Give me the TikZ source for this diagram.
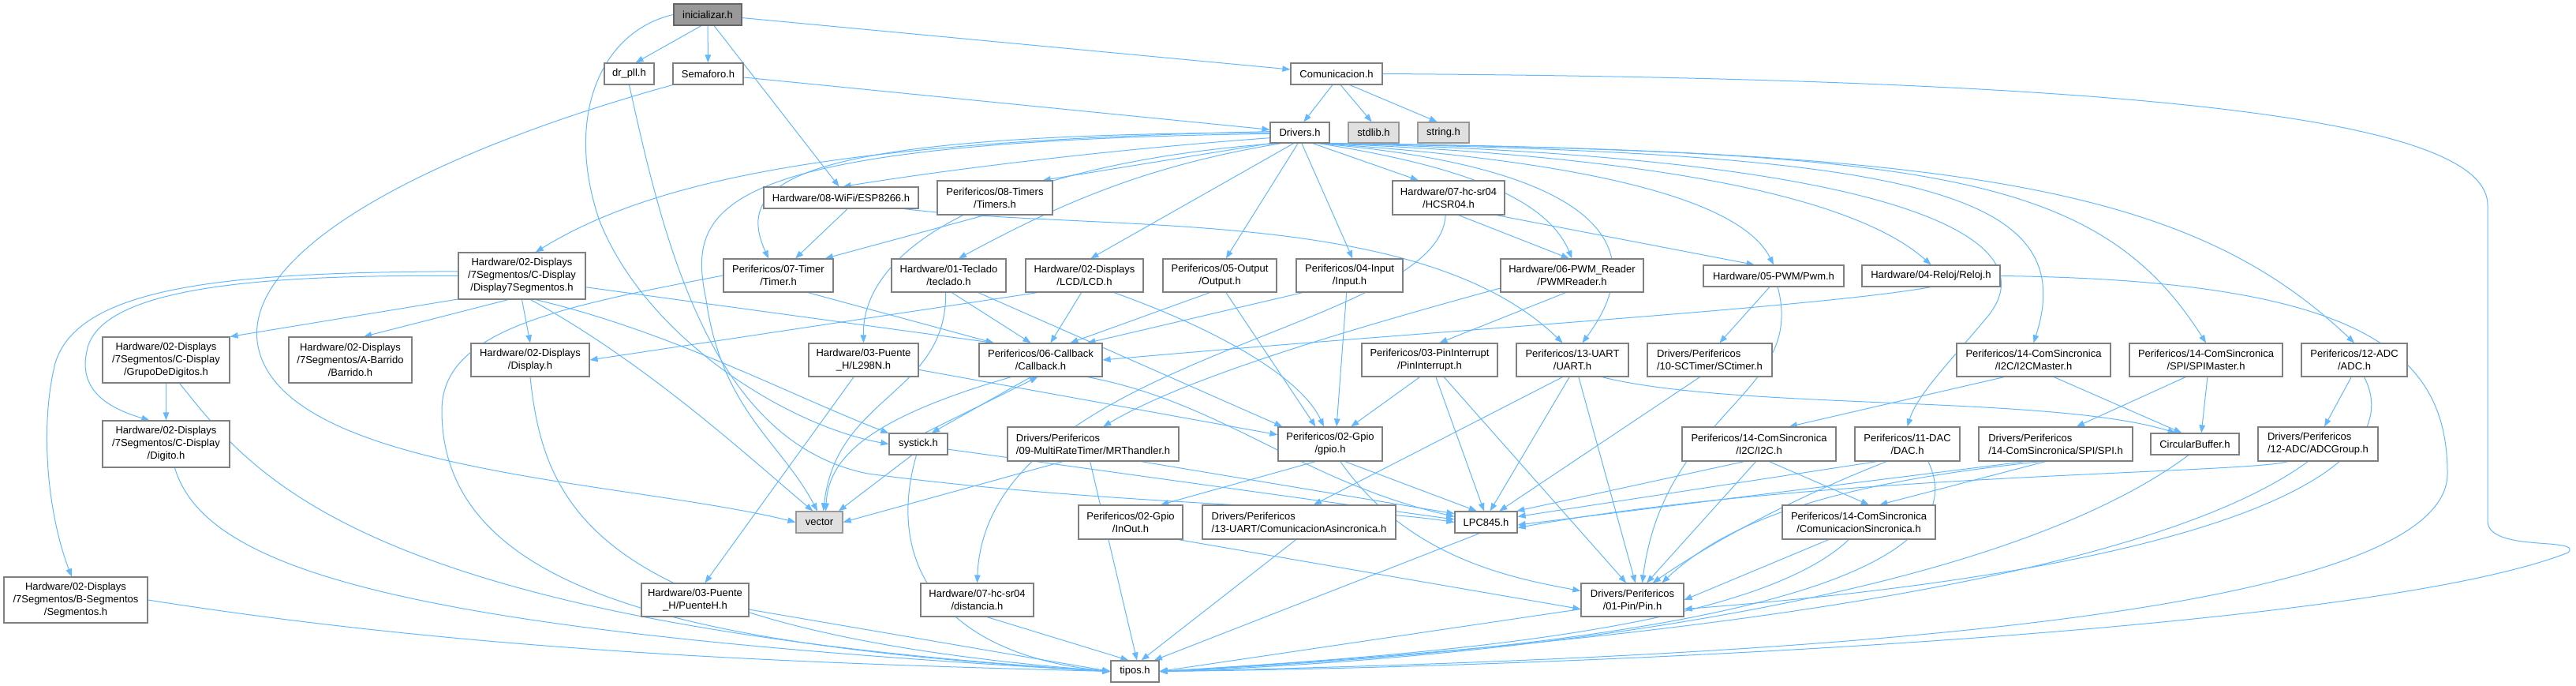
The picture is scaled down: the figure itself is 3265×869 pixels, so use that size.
\documentclass[tikz,border=0pt]{standalone}
\usepackage{fontspec}
\setmainfont{Liberation Sans}
\usetikzlibrary{arrows.meta}
\pgfdeclarelayer{bg}
\pgfsetlayers{bg,main}
\definecolor{ecol}{HTML}{63B8FF}
\definecolor{bcol}{HTML}{808080}
\definecolor{rootfill}{HTML}{999999}
\definecolor{rootline}{HTML}{666666}
\definecolor{sysfill}{HTML}{E0E0E0}
\definecolor{sysline}{HTML}{999999}
\tikzset{
 nbox/.style={draw=bcol, line width=1.2pt, fill=white, inner sep=0pt, align=center, font=\fontsize{13}{16}\selectfont},
 rootnode/.style={fill=rootfill, draw=rootline},
 sysnode/.style={fill=sysfill, draw=sysline},
 edge/.style={draw=ecol, line width=1pt, -{Triangle[length=10pt,width=7.5pt]}},
}
\newcommand{\nd}[7][]{\node[nbox,#1,minimum width={#5-#3},minimum height={#6-#4}] (#2) at ({(#3+#5)/2},{(#4+#6)/2}) {#7};}
\begin{document}
\begin{tikzpicture}[x=1pt,y=-1pt]
\useasboundingbox (0,0) rectangle (3265,869);
% ---------------- nodes
\nd[rootnode]{ini}{854}{5}{940}{32}{inicializar.h}
\nd{drpll}{766}{80}{829}{107}{dr\_pll.h}
\nd{sem}{853}{80}{942}{107}{Semaforo.h}
\nd{com}{1636}{80}{1752}{107}{Comunicacion.h}
\nd{drv}{1610}{155}{1685}{181}{Drivers.h}
\nd[sysnode]{stdlib}{1709}{155}{1773}{181}{stdlib.h}
\nd[sysnode]{string}{1797}{155}{1862}{181}{string.h}
\nd{esp}{968}{237}{1164}{264}{Hardware/08-WiFi/ESP8266.h}
\nd{timers}{1188}{229}{1334}{272}{Perifericos/08-Timers\\/Timers.h}
\nd{hcsr}{1765}{229}{1907}{272}{Hardware/07-hc-sr04\\/HCSR04.h}
\nd{d7s}{581}{320}{742}{379}{Hardware/02-Displays\\/7Segmentos/C-Display\\/Display7Segmentos.h}
\nd{timer}{917}{328}{1056}{370}{Perifericos/07-Timer\\/Timer.h}
\nd{tecl}{1130}{328}{1275}{370}{Hardware/01-Teclado\\/teclado.h}
\nd{lcd}{1300}{328}{1449}{370}{Hardware/02-Displays\\/LCD/LCD.h}
\nd{output}{1474}{328}{1618}{370}{Perifericos/05-Output\\/Output.h}
\nd{input}{1643}{328}{1778}{370}{Perifericos/04-Input\\/Input.h}
\nd{pwmr}{1902}{328}{2083}{370}{Hardware/06-PWM\_Reader\\/PWMReader.h}
\nd{pwm}{2159}{336}{2337}{363}{Hardware/05-PWM/Pwm.h}
\nd{reloj}{2360}{336}{2535}{363}{Hardware/04-Reloj/Reloj.h}
\nd{grupo}{130}{427}{291}{485}{Hardware/02-Displays\\/7Segmentos/C-Display\\/GrupoDeDigitos.h}
\nd{barrido}{366}{427}{522}{485}{Hardware/02-Displays\\/7Segmentos/A-Barrido\\/Barrido.h}
\nd{display}{597}{435}{747}{477}{Hardware/02-Displays\\/Display.h}
\nd{l298}{1025}{435}{1164}{477}{Hardware/03-Puente\\\_H/L298N.h}
\nd{callback}{1241}{435}{1397}{477}{Perifericos/06-Callback\\/Callback.h}
\nd{pinint}{1726}{435}{1898}{477}{Perifericos/03-PinInterrupt\\/PinInterrupt.h}
\nd{uart}{1922}{435}{2064}{477}{Perifericos/13-UART\\/UART.h}
\nd[align=left]{sct}{2088}{435}{2246}{477}{Drivers/Perifericos\\/10-SCTimer/SCtimer.h}
\nd{i2cm}{2480}{435}{2675}{477}{Perifericos/14-ComSincronica\\/I2C/I2CMaster.h}
\nd{spim}{2699}{435}{2893}{477}{Perifericos/14-ComSincronica\\/SPI/SPIMaster.h}
\nd{adc}{2917}{435}{3051}{477}{Perifericos/12-ADC\\/ADC.h}
\nd{digito}{130}{533}{291}{592}{Hardware/02-Displays\\/7Segmentos/C-Display\\/Digito.h}
\nd{systick}{1127}{549}{1201}{576}{systick.h}
\nd[align=left]{mrt}{1277}{541}{1494}{584}{Drivers/Perifericos\\/09-MultiRateTimer/MRThandler.h}
\nd{gpio}{1620}{541}{1752}{584}{Perifericos/02-Gpio\\/gpio.h}
\nd{i2c}{2132}{541}{2327}{584}{Perifericos/14-ComSincronica\\/I2C/I2C.h}
\nd{dac}{2351}{541}{2484}{584}{Perifericos/11-DAC\\/DAC.h}
\nd[align=left]{spi}{2508}{541}{2703}{584}{Drivers/Perifericos\\/14-ComSincronica/SPI/SPI.h}
\nd{cbuf}{2726}{549}{2838}{576}{CircularBuffer.h}
\nd[align=left]{adcg}{2862}{541}{3014}{584}{Drivers/Perifericos\\/12-ADC/ADCGroup.h}
\nd[sysnode]{vector}{1009}{648}{1068}{675}{vector}
\nd{inout}{1367}{640}{1499}{683}{Perifericos/02-Gpio\\/InOut.h}
\nd[align=left]{comas}{1524}{640}{1769}{683}{Drivers/Perifericos\\/13-UART/ComunicacionAsincronica.h}
\nd{lpc}{1844}{648}{1923}{675}{LPC845.h}
\nd{comsinc}{2259}{640}{2453}{683}{Perifericos/14-ComSincronica\\/ComunicacionSincronica.h}
\nd{segm}{5}{731}{187}{789}{Hardware/02-Displays\\/7Segmentos/B-Segmentos\\/Segmentos.h}
\nd{puenteh}{813}{739}{949}{781}{Hardware/03-Puente\\\_H/PuenteH.h}
\nd{dist}{1167}{739}{1310}{781}{Hardware/07-hc-sr04\\/distancia.h}
\nd{pin}{2004}{739}{2134}{781}{Drivers/Perifericos\\/01-Pin/Pin.h}
\nd{tipos}{1408}{837}{1469}{864}{tipos.h}
% ---------------- edges
\begin{pgfonlayer}{bg}
% inicializar
\draw[edge] (ini.-120) -- (drpll.60);
\draw[edge] (ini) -- (sem);
\draw[edge] (ini.-60) -- (esp.100);
\draw[edge] (ini) -- (com);
\draw[edge] (ini.west) .. controls (760,40) and (715,150) .. (760,280) .. controls (820,430) and (1000,540) .. (systick.west);
% Semaforo / dr_pll
\draw[edge] (sem) -- (drv);
\draw[edge] (sem.south west) .. controls (520,200) and (290,330) .. (330,450) .. controls (380,600) and (800,610) .. (vector.west);
\draw[edge] (drpll.south) .. controls (840,300) and (900,560) .. (1100,600) .. controls (1400,640) and (1700,640) .. (lpc.west);
% Comunicacion
\draw[edge] (com.-110) -- (drv.70);
\draw[edge] (com.-70) -- (stdlib.100);
\draw[edge] (com.-40) -- (string.120);
\draw[edge] (com.east) .. controls (2800,100) and (3153,160) .. (3153,260) -- (3153,660) .. controls (3153,700) and (3275,680) .. (3255,700) .. controls (3000,800) and (2000,845) .. (tipos.east);
% Drivers
\draw[edge] (drv.190) .. controls (1400,190) and (1200,215) .. (esp.80);
\draw[edge] (drv.200) -- (timers.20);
\draw[edge] (drv.180) .. controls (1000,170) and (930,230) .. (timer.120);
\draw[edge] (drv.182) .. controls (900,180) and (870,260) .. (895,380) .. controls (915,520) and (990,560) .. (vector.100);
\draw[edge] (drv.178) .. controls (1100,178) and (840,220) .. (d7s.60);
\draw[edge] (drv.210) .. controls (1450,210) and (1340,260) .. (tecl.60);
\draw[edge] (drv.205) .. controls (1300,205) and (1092,300) .. (l298.north);
\draw[edge] (drv.-120) -- (lcd.70);
\draw[edge] (drv.-100) -- (output.70);
\draw[edge] (drv.-80) -- (input.80);
\draw[edge] (drv.-40) -- (hcsr.150);
\draw[edge] (drv.-30) .. controls (1850,210) and (1960,250) .. (pwmr.north);
\draw[edge] (drv.-28) .. controls (1950,200) and (2200,240) .. (pwm.north);
\draw[edge] (drv.-26) .. controls (2050,196) and (2340,240) .. (reloj.north);
\draw[edge] (drv.-32) .. controls (1950,205) and (2120,280) .. (uart.60);
\draw[edge] (drv.-24) .. controls (2400,198) and (2600,300) .. (2520,400) .. controls (2470,460) and (2430,500) .. (dac.north);
\draw[edge] (drv.-23) .. controls (2420,194) and (2640,240) .. (i2cm.north);
\draw[edge] (drv.-22) .. controls (2450,192) and (2660,220) .. (spim.north);
\draw[edge] (drv.-21) .. controls (2500,190) and (2780,240) .. (adc.north);
% second level
\draw[edge] (reloj.south) .. controls (2300,390) and (1800,420) .. (callback.east);
\draw[edge] (reloj.east) .. controls (3000,355) and (3102,450) .. (3102,600) .. controls (3102,790) and (2200,835) .. (tipos.east);
\draw[edge] (esp.-60) -- (timer.45);
\draw[edge] (esp.-10) .. controls (1400,295) and (1800,260) .. (uart.120);
\draw[edge] (timers.-120) -- (timer.20);
\draw[edge] (hcsr.-100) .. controls (1825,420) and (1250,450) .. (dist.north);
\draw[edge] (hcsr.-60) -- (pwmr.100);
\draw[edge] (hcsr.-20) -- (pwm.150);
% D7S
\draw[edge] (d7s.200) -- (grupo.20);
\draw[edge] (d7s.-120) -- (barrido.60);
\draw[edge] (d7s.south) -- (display.north);
\draw[edge] (d7s.west) .. controls (350,348) and (125,360) .. (110,445) .. controls (100,490) and (130,515) .. (digito.125);
\draw[edge] (d7s.176) .. controls (300,345) and (100,360) .. (70,460) .. controls (50,540) and (60,650) .. (segm.100);
\draw[edge] (d7s.-10) -- (callback.160);
\draw[edge] (d7s.-60) .. controls (850,420) and (1000,500) .. (systick.160);
\draw[edge] (d7s.-70) .. controls (820,460) and (950,580) .. (vector.120);
\draw[edge] (grupo.south) -- (digito.north);
\draw[edge] (grupo.-60) .. controls (320,600) and (450,790) .. (tipos.west);
\draw[edge] (digito.-70) .. controls (260,720) and (500,800) .. (tipos.west);
\draw[edge] (segm.east) .. controls (600,825) and (1000,840) .. (tipos.west);
\draw[edge] (display.south) .. controls (690,650) and (760,800) .. (tipos.west);
% row 2
\draw[edge] (timer.-30) -- (callback.160);
\draw[edge] (timer.west) .. controls (700,390) and (560,420) .. (560,520) .. controls (560,760) and (900,820) .. (tipos.west);
\draw[edge] (tecl.-80) -- (callback.120);
\draw[edge] (tecl.-100) .. controls (1200,500) and (1060,500) .. (vector.70);
\draw[edge] (tecl.-30) -- (gpio.160);
\draw[edge] (lcd.-100) -- (callback.60);
\draw[edge] (lcd.-160) -- (display.east);
\draw[edge] (lcd.-30) .. controls (1550,420) and (1650,480) .. (gpio.110);
\draw[edge] (output.-120) -- (callback.30);
\draw[edge] (output.-70) -- (gpio.130);
\draw[edge] (input.-160) -- (callback.20);
\draw[edge] (input.-100) -- (gpio.70);
\draw[edge] (pwmr.-110) -- (pinint.60);
\draw[edge] (pwmr.-170) .. controls (1700,420) and (1500,480) .. (mrt.60);
\draw[edge] (pwm.-110) -- (sct.60);
\draw[edge] (pwm.-70) .. controls (2290,500) and (2110,520) .. (pin.60);
\draw[edge] (l298.-120) -- (puenteh.60);
\draw[edge] (l298.-10) -- (gpio.170);
\draw[edge] (callback.-120) -- (systick.40);
\draw[edge] (systick.60) -- (callback.-100);
\draw[edge] (callback.-150) .. controls (1100,530) and (1050,580) .. (vector.60);
\draw[edge] (callback.-20) .. controls (1550,510) and (1650,610) .. (lpc.170);
\draw[edge] (systick.-120) -- (vector.30);
\draw[edge] (systick.-100) .. controls (1120,720) and (1200,830) .. (tipos.west);
\draw[edge] (systick.-10) -- (lpc.175);
\draw[edge] (mrt.-150) -- (vector.east);
\draw[edge] (mrt.-100) -- (tipos.80);
\draw[edge] (mrt.-20) -- (lpc.165);
\draw[edge] (pinint.-120) -- (gpio.40);
\draw[edge] (pinint.-70) -- (lpc.100);
\draw[edge] (pinint.-50) -- (pin.110);
\draw[edge] (uart.-120) -- (comas.50);
\draw[edge] (uart.-100) -- (lpc.70);
\draw[edge] (uart.-70) -- (pin.80);
\draw[edge] (uart.-30) .. controls (2200,520) and (2600,500) .. (cbuf.150);
\draw[edge] (sct.-120) -- (lpc.40);
\draw[edge] (gpio.-130) -- (inout.30);
\draw[edge] (gpio.-50) -- (lpc.130);
\draw[edge] (gpio.-60) .. controls (1780,700) and (1900,730) .. (pin.170);
\draw[edge] (inout.-20) -- (pin.190);
\draw[edge] (comas.-100) -- (tipos.60);
\draw[edge] (i2c.-130) -- (lpc.20);
\draw[edge] (i2c.-100) -- (pin.50);
\draw[edge] (i2c.-60) -- (comsinc.60);
\draw[edge] (dac.-150) -- (lpc.10);
\draw[edge] (dac.-140) .. controls (2250,640) and (2150,700) .. (pin.40);
\draw[edge] (dac.-40) .. controls (2500,700) and (2300,810) .. (tipos.east);
\draw[edge] (spi.-150) -- (lpc.-5);
\draw[edge] (spi.-130) .. controls (2350,610) and (2200,650) .. (pin.30);
\draw[edge] (spi.-120) -- (comsinc.40);
\draw[edge] (comsinc.-150) -- (pin.east);
\draw[edge] (comsinc.-120) .. controls (2220,800) and (1800,830) .. (tipos.east);
\draw[edge] (i2cm.-150) -- (i2c.30);
\draw[edge] (i2cm.-40) -- (cbuf.140);
\draw[edge] (spim.-140) -- (spi.40);
\draw[edge] (spim.-85) -- (cbuf.60);
\draw[edge] (adc.-100) -- (adcg.70);
\draw[edge] (adc.-60) .. controls (3060,600) and (2800,720) .. (pin.-10);
\draw[edge] (adcg.-150) .. controls (2850,600) and (2300,600) .. (lpc.-10);
\draw[edge] (adcg.-120) .. controls (2700,750) and (2000,820) .. (tipos.east);
\draw[edge] (cbuf.-120) .. controls (2500,780) and (1800,840) .. (tipos.east);
\draw[edge] (lpc.-120) -- (tipos.30);
\draw[edge] (pin.-170) -- (tipos.east);
\draw[edge] (dist.-60) -- (tipos.120);
\draw[edge] (puenteh.-10) -- (tipos.west);
\end{pgfonlayer}
\end{tikzpicture}
\end{document}
